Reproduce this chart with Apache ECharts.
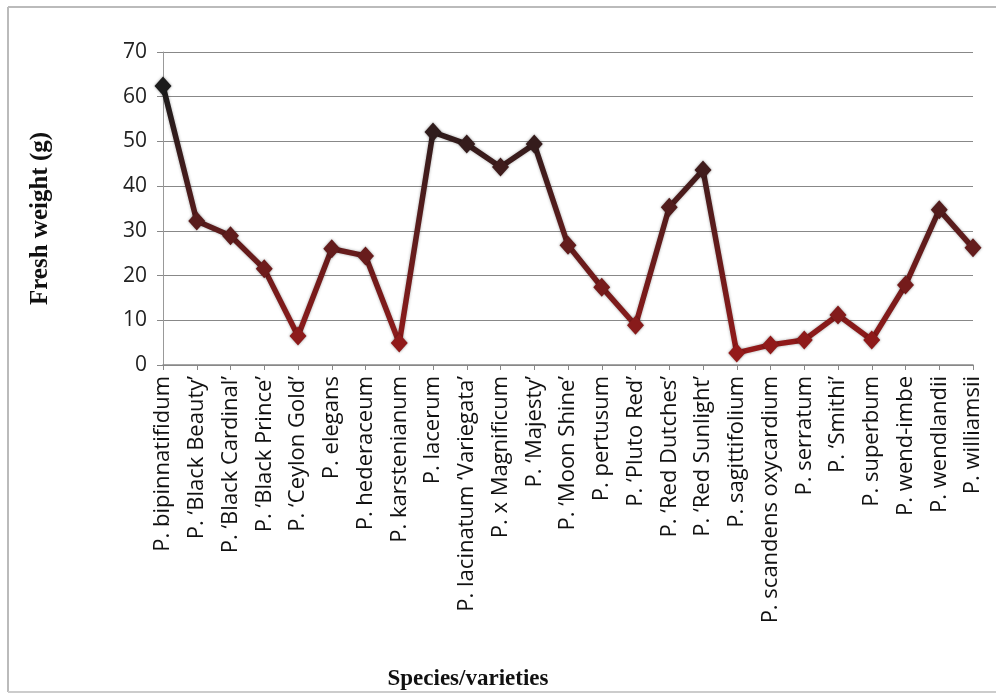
<!DOCTYPE html>
<html><head><meta charset="utf-8">
<script src="https://cdn.jsdelivr.net/npm/echarts@6/dist/echarts.min.js"></script>
<style>html,body{margin:0;padding:0;background:#fff}#c{width:996px;height:695px}</style>
</head><body><div id="c"></div>
<script>
var categories = ["P. bipinnatifidum","P. \u2018Black Beauty\u2019","P. \u2018Black Cardinal\u2019","P. \u2018Black Prince\u2019","P. \u2018Ceylon Gold\u2019","P. elegans","P. hederaceum","P. karstenianum","P. lacerum","P. lacinatum \u2018Variegata\u2019","P. x Magnificum","P. \u2018Majesty\u2019","P. \u2018Moon Shine\u2019","P. pertusum","P. \u2018Pluto Red\u2019","P. \u2018Red Dutches\u2019","P. \u2018Red Sunlight\u2019","P. sagittifolium","P. scandens oxycardium","P. serratum","P. \u2018Smithi\u2019","P. superbum","P. wend-imbe","P. wendlandii","P. williamsii"];
var freshWeight = [62.4,32.2,28.9,21.5,6.5,26,24.4,4.9,52.1,49.4,44.3,49.4,26.8,17.4,8.9,35.3,43.6,2.7,4.5,5.6,11.2,5.6,17.9,34.7,26.2];
var yTicks = [0,10,20,30,40,50,60,70];

var chart = echarts.init(document.getElementById('c'));
chart.setOption({
  animation:false,
  backgroundColor:'#fff',
  graphic:[
    {type:'line',shape:{x1:8,y1:7,x2:996,y2:7},style:{stroke:'#bbb',lineWidth:2}},
    {type:'line',shape:{x1:8,y1:7,x2:8,y2:692},style:{stroke:'#bbb',lineWidth:2}},
    {type:'line',shape:{x1:8,y1:692,x2:996,y2:692},style:{stroke:'#ccc',lineWidth:2}}
  ],
  grid:{left:163,right:23,top:52,bottom:330,containLabel:false},
  visualMap:{show:false,type:'continuous',dimension:1,min:0,max:62,inRange:{color:['#9a1a1a','#5a1c1c','#1c1c1c']}},
  xAxis:{
    type:'category',data:categories,boundaryGap:false,
    axisLine:{lineStyle:{color:'#888',width:1.5}},
    axisTick:{show:true,alignWithLabel:true,length:5,lineStyle:{color:'#888'}},
    axisLabel:{rotate:90,interval:0,fontFamily:'Open Sans',fontSize:22,color:'#111',margin:11},
    name:'Species/varieties',nameLocation:'middle',nameGap:303,
    nameTextStyle:{fontFamily:'Liberation Serif',fontWeight:'bold',fontSize:23,color:'#111',padding:[0,200,0,0]}
  },
  yAxis:{
    type:'value',min:0,max:70,interval:10,
    axisLine:{show:true,lineStyle:{color:'#999',width:1}},
    axisTick:{show:true,length:6,lineStyle:{color:'#888'}},
    splitLine:{lineStyle:{color:'#888',width:1.2}},
    axisLabel:{fontFamily:'Open Sans',fontSize:21,color:'#222',margin:16,
      formatter:function(v){return yTicks.indexOf(v)>=0?String(v):'';}},
    name:'Fresh weight (g)',nameLocation:'middle',nameGap:110,
    nameTextStyle:{fontFamily:'Liberation Serif',fontWeight:'bold',fontSize:25,color:'#111',padding:[0,20,0,0]}
  },
  series:[{
    type:'line',data:freshWeight,symbol:'diamond',symbolSize:[17,19],
    lineStyle:{width:5.5,shadowBlur:3,shadowColor:'rgba(0,0,0,0.35)'},
    itemStyle:{shadowBlur:3,shadowColor:'rgba(0,0,0,0.4)'}
  }]
});
</script></body></html>
